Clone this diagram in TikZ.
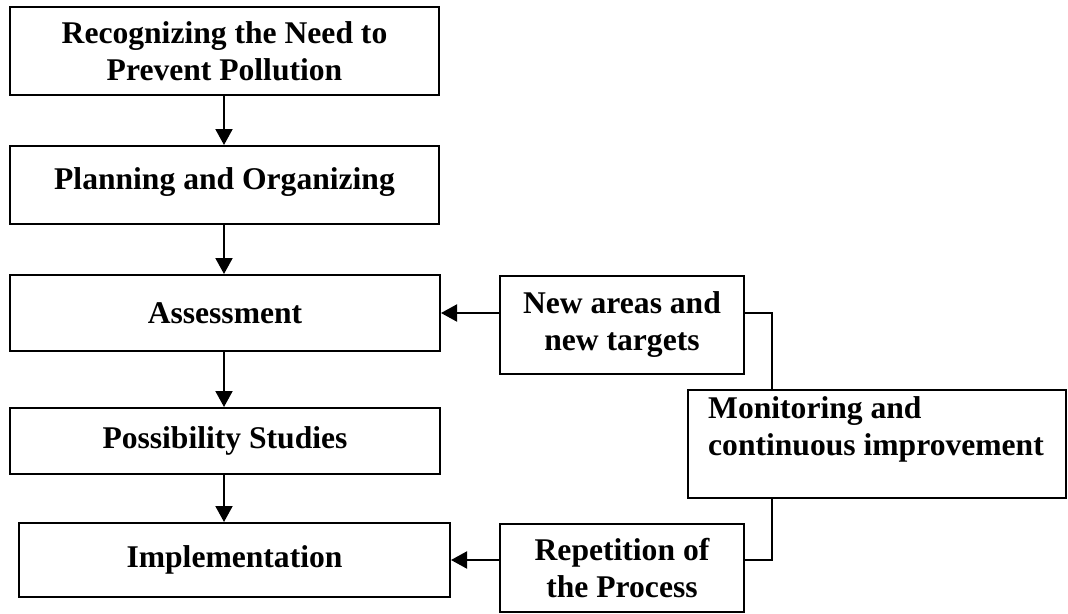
\documentclass[tikz,border=0pt]{standalone}
\usepackage{fontspec}
\setmainfont{Liberation Serif}
\usetikzlibrary{arrows.meta}

\tikzset{
  stage/.style={draw=black, line width=2pt, rectangle, inner sep=0pt,
    align=center, font=\fontsize{31.6}{37}\selectfont\bfseries},
  caption/.style={inner sep=0pt, align=left, font=\fontsize{31.6}{37}\selectfont\bfseries},
  link/.style={line width=2pt, -{Triangle[length=16pt,width=17pt]}},
  wire/.style={line width=2pt}
}

\begin{document}
\begin{tikzpicture}[x=1pt, y=-1pt]
  \useasboundingbox (0,0) rectangle (1068,613);

  % main sequence of stages
  \node[stage, minimum width=429pt, minimum height=88pt] (rec) at (224.5,51)
    {Recognizing the Need to\\Prevent Pollution};
  \node[stage, minimum width=429pt, minimum height=78pt, text depth=12pt] (plan) at (224.5,185)
    {Planning and Organizing};
  \node[stage, minimum width=430pt, minimum height=76pt] (ass) at (225,313)
    {Assessment};
  \node[stage, minimum width=430pt, minimum height=66pt] (pos) at (225,441)
    {Possibility Studies};
  \node[stage, minimum width=431pt, minimum height=74pt] (imp) at (234.5,560)
    {Implementation};

  % feedback loop
  \node[stage, minimum width=244pt, minimum height=98pt] (new) at (622,325)
    {New areas and\\new targets};
  \node[stage, minimum width=378pt, minimum height=108pt] (mon) at (877,444) {};
  \node[caption, anchor=base west] (montext) at (708,455)
    {Monitoring and\\continuous improvement};
  \node[stage, minimum width=244pt, minimum height=88pt] (rep) at (622,568)
    {Repetition of\\the Process};

  \coordinate (bus) at (772,0);

  % arrows down the main column
  \draw[link] (rec.south -| 224,0) -- (plan.north -| 224,0);
  \draw[link] (plan.south -| 224,0) -- (ass.north -| 224,0);
  \draw[link] (ass.south -| 224,0) -- (pos.north -| 224,0);
  \draw[link] (pos.south -| 224,0) -- (imp.north -| 224,0);

  % arrows back into the main column
  \draw[link] (new.west |- ass.east) -- (ass.east);
  \draw[link] (rep.west |- imp.east) -- (imp.east);

  % links to the monitoring box
  \draw[wire] (new.east |- ass.east) -| (bus |- mon.north);
  \draw[wire] (rep.east |- imp.east) -| (bus |- mon.south);
\end{tikzpicture}
\end{document}
